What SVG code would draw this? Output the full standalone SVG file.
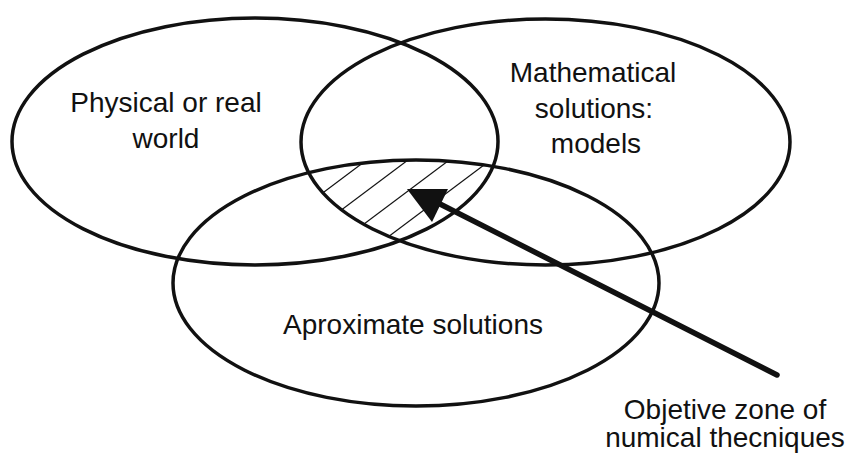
<svg xmlns="http://www.w3.org/2000/svg" width="854" height="459" viewBox="0 0 854 459">
<style>
.set{fill:none;stroke:#111;stroke-width:3.5}
.lbl{font-family:"Liberation Sans",Arial,sans-serif;font-size:28px;fill:#111;text-anchor:middle}
.hatch{stroke:#111;stroke-width:1.2}
</style>
<defs>
<clipPath id="cL"><ellipse cx="255" cy="141.5" rx="243" ry="123.5"/></clipPath>
<clipPath id="cR"><ellipse cx="545.5" cy="142" rx="244.5" ry="123"/></clipPath>
<clipPath id="cB"><ellipse cx="416" cy="283" rx="243" ry="123"/></clipPath>
</defs>
<rect width="854" height="459" fill="#fff"/>
<g id="hatching" clip-path="url(#cL)"><g clip-path="url(#cR)"><g clip-path="url(#cB)">
<line class="hatch" x1="300" y1="210" x2="400" y2="135"/>
<line class="hatch" x1="300" y1="241" x2="440" y2="136"/>
<line class="hatch" x1="320" y1="257" x2="480" y2="137"/>
<line class="hatch" x1="360" y1="258" x2="520" y2="138"/>
</g></g></g>
<g id="physical">
<ellipse class="set" cx="255" cy="141.5" rx="243" ry="123.5"/>
<text class="lbl" x="166" y="112">Physical or real</text>
<text class="lbl" x="166" y="148">world</text>
</g>
<g id="mathematical">
<ellipse class="set" cx="545.5" cy="142" rx="244.5" ry="123"/>
<text class="lbl" x="593" y="82">Mathematical</text>
<text class="lbl" x="594" y="118">solutions:</text>
<text class="lbl" x="596" y="153">models</text>
</g>
<g id="approximate">
<ellipse class="set" cx="416" cy="283" rx="243" ry="123"/>
<text class="lbl" x="413" y="334">Aproximate solutions</text>
</g>
<g id="objective">
<text class="lbl" x="725" y="419">Objetive zone of</text>
<text class="lbl" x="725" y="447">numical thecniques</text>
</g>
<g id="connectors">
<line x1="777" y1="375" x2="440" y2="204" stroke="#111" stroke-width="5.5" stroke-linecap="round"/>
<polygon points="407,189 448,189 432,222" fill="#111"/>
</g>
</svg>
